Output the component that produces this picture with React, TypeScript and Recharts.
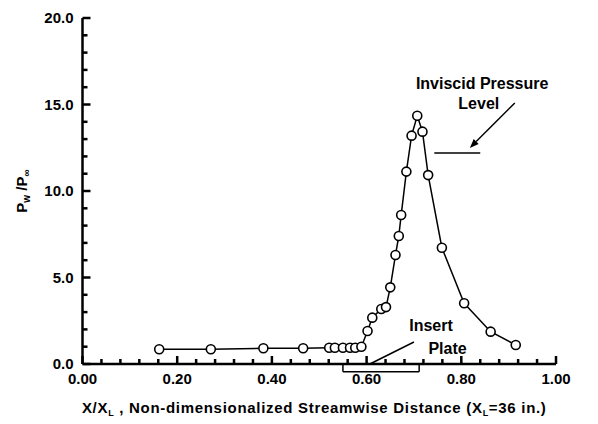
import { LineChart, Line, XAxis, YAxis, ReferenceLine, ReferenceDot, Label } from 'recharts';

// streamwise position X/XL and wall pressure ratio Pw/Pinf
const xPos = [
  0.162, 0.271, 0.382, 0.466, 0.521, 0.533, 0.55, 0.565, 0.576, 0.589, 0.602, 0.612, 0.631, 0.641,
  0.65, 0.661, 0.668, 0.673, 0.684, 0.695, 0.707, 0.718, 0.73, 0.759, 0.806, 0.862, 0.915,
];
const pressureRatio = [
  0.85, 0.85, 0.91, 0.91, 0.94, 0.94, 0.94, 0.94, 0.94, 1.0, 1.91, 2.68, 3.18, 3.29,
  4.43, 6.3, 7.4, 8.61, 11.12, 13.2, 14.35, 13.43, 10.92, 6.72, 3.51, 1.87, 1.1,
];

const xTicks = [
  0, 0.04, 0.08, 0.12, 0.16, 0.2, 0.24, 0.28, 0.32, 0.36, 0.4, 0.44, 0.48, 0.52, 0.56, 0.6,
  0.64, 0.68, 0.72, 0.76, 0.8, 0.84, 0.88, 0.92, 0.96, 1.0,
];
const yTicks = [0, 1, 2, 3, 4, 5, 6, 7, 8, 9, 10, 11, 12, 13, 14, 15, 16, 17, 18, 19, 20];

// annotations
const inviscidLevel = [{ x: 0.743, y: 12.2 }, { x: 0.84, y: 12.2 }];
const inviscidArrow = [{ x: 0.913, y: 15.09 }, { x: 0.818, y: 12.49 }];
const plateStart = 0.55;
const plateEnd = 0.711;
const plateDepth = -0.45;
const platePointer = [{ x: 0.607, y: 0 }, { x: 0.7, y: 1.27 }];
const notes = [
  { text: 'Inviscid Pressure', x: 0.844, y: 16.24 },
  { text: 'Level', x: 0.837, y: 15.09 },
  { text: 'Insert', x: 0.736, y: 2.25 },
  { text: 'Plate', x: 0.771, y: 0.92 },
];

const data = xPos.map((x, i) => ({ x, p: pressureRatio[i] }));

const FONT = '"Liberation Sans", Arial, sans-serif';

const isMultiple = (v: number, step: number) => Math.abs(v / step - Math.round(v / step)) < 1e-6;

const XTick = (props: any) => {
  const { x, y, payload } = props;
  const v = payload.value;
  const major = isMultiple(v, 0.2);
  const len = major ? 8 : 5;
  return (
    <g>
      <path d={`M${x},${y}L${x},${y - len}`} stroke="#000" strokeWidth={2.5} fill="none" />
      {major && (
        <text x={x} y={y + 20} textAnchor="middle" fontFamily={FONT} fontWeight="bold" fontSize={15} fill="#000">
          {v.toFixed(2)}
        </text>
      )}
    </g>
  );
};

const YTick = (props: any) => {
  const { x, y, payload } = props;
  const v = payload.value;
  const major = isMultiple(v, 5);
  const len = major ? 8 : 5;
  return (
    <g>
      <path d={`M${x},${y}L${x + len},${y}`} stroke="#000" strokeWidth={2.5} fill="none" />
      {major && (
        <text x={x - 9} y={y + 5} textAnchor="end" fontFamily={FONT} fontWeight="bold" fontSize={15} fill="#000">
          {v.toFixed(1)}
        </text>
      )}
    </g>
  );
};

const XTitle = ({ viewBox }: any) => {
  const cx = viewBox.x + viewBox.width / 2;
  return (
    <text
      x={cx - 5}
      y={viewBox.y + 49}
      textAnchor="middle"
      fontFamily={FONT}
      fontWeight="bold"
      fontSize={15}
      letterSpacing={0.7}
      fill="#000"
    >
      <tspan>X/X</tspan>
      <tspan fontSize={9} dy={3}>L</tspan>
      <tspan dy={-3}> , Non-dimensionalized Streamwise Distance (X</tspan>
      <tspan fontSize={9} dy={3}>L</tspan>
      <tspan dy={-3}>=36 in.)</tspan>
    </text>
  );
};

const YTitle = ({ viewBox }: any) => {
  const cx = 27;
  const cy = viewBox.y + viewBox.height / 2;
  return (
    <text
      x={cx}
      y={cy}
      transform={`rotate(-90 ${cx} ${cy})`}
      textAnchor="middle"
      fontFamily={FONT}
      fontWeight="bold"
      fontSize={15}
      fill="#000"
    >
      <tspan>P</tspan>
      <tspan fontSize={10} dy={3}>w</tspan>
      <tspan dy={-3}> /P</tspan>
      <tspan fontSize={10} dy={3}>∞</tspan>
    </text>
  );
};

const noteLabel = (text: string) => ({ viewBox }: any) => (
  <text
    x={viewBox.x + viewBox.width / 2}
    y={viewBox.y + viewBox.height / 2 + 6}
    textAnchor="middle"
    fontFamily={FONT}
    fontWeight="bold"
    fontSize={16}
    fill="#000"
  >
    {text}
  </text>
);

const ArrowShape = ({ x1, y1, x2, y2 }: any) => {
  const ang = Math.atan2(y2 - y1, x2 - x1);
  const len = 9;
  const half = 3.5;
  const bx = x2 - len * Math.cos(ang);
  const by = y2 - len * Math.sin(ang);
  const px = -Math.sin(ang) * half;
  const py = Math.cos(ang) * half;
  return (
    <g>
      <line x1={x1} y1={y1} x2={bx} y2={by} stroke="#000" strokeWidth={1.5} />
      <polygon points={`${x2},${y2} ${bx + px},${by + py} ${bx - px},${by - py}`} fill="#000" />
    </g>
  );
};

export default function App() {
  return (
    <div style={{ position: 'absolute', left: 0, top: 0, background: '#fff' }}>
      <LineChart width={598} height={424} data={data} margin={{ top: 18, right: 42, bottom: 30, left: 0 }}>
        <XAxis
          dataKey="x"
          type="number"
          domain={[0, 1]}
          ticks={xTicks}
          interval={0}
          tickSize={0}
          tickMargin={0}
          tickLine={false}
          tick={XTick}
          axisLine={{ stroke: '#000', strokeWidth: 2.5 }}
          height={30}
        >
          <Label content={<XTitle />} />
        </XAxis>
        <YAxis
          type="number"
          domain={[0, 20]}
          ticks={yTicks}
          interval={0}
          tickSize={0}
          tickMargin={0}
          tickLine={false}
          tick={YTick}
          axisLine={{ stroke: '#000', strokeWidth: 2.5 }}
          width={82.5}
        >
          <Label content={<YTitle />} />
        </YAxis>

        <ReferenceLine segment={inviscidLevel} stroke="#000" strokeWidth={1.5} ifOverflow="visible" />
        <ReferenceLine segment={inviscidArrow} shape={ArrowShape} ifOverflow="visible" />
        <ReferenceLine
          segment={[{ x: plateStart, y: plateDepth }, { x: plateEnd, y: plateDepth }]}
          stroke="#000"
          strokeWidth={1.5}
          ifOverflow="visible"
        />
        <ReferenceLine
          segment={[{ x: plateStart, y: plateDepth }, { x: plateStart, y: 0 }]}
          stroke="#000"
          strokeWidth={1.5}
          ifOverflow="visible"
        />
        <ReferenceLine
          segment={[{ x: plateEnd, y: plateDepth }, { x: plateEnd, y: 0 }]}
          stroke="#000"
          strokeWidth={1.5}
          ifOverflow="visible"
        />
        <ReferenceLine segment={platePointer} stroke="#000" strokeWidth={1.5} ifOverflow="visible" />

        {notes.map((n) => (
          <ReferenceDot key={n.text} x={n.x} y={n.y} r={0} ifOverflow="visible" label={noteLabel(n.text)} />
        ))}

        <Line
          type="linear"
          dataKey="p"
          stroke="#000"
          strokeWidth={1.5}
          dot={{ r: 4.5, fill: '#fff', stroke: '#000', strokeWidth: 1.6 }}
          isAnimationActive={false}
        />
      </LineChart>
    </div>
  );
}
